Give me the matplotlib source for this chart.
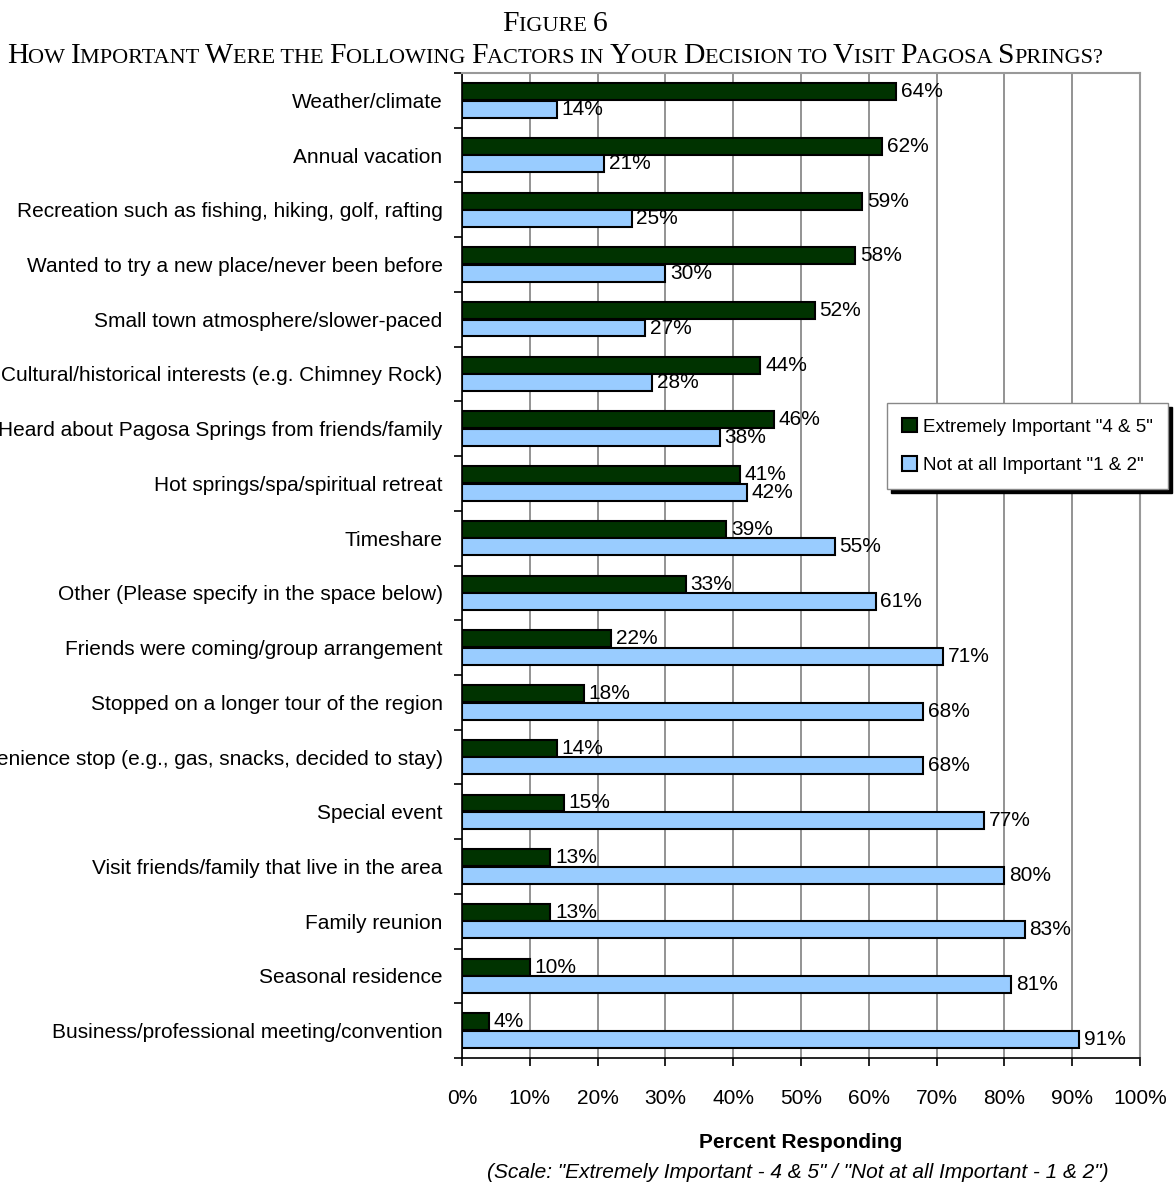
import numpy as np
import matplotlib
matplotlib.use('Agg')
import matplotlib.pyplot as plt
from matplotlib.offsetbox import TextArea, HPacker, AnchoredOffsetbox
from matplotlib.ticker import MultipleLocator, PercentFormatter, FixedLocator

categories = [
    'Weather/climate',
    'Annual vacation',
    'Recreation such as fishing, hiking, golf, rafting',
    'Wanted to try a new place/never been before',
    'Small town atmosphere/slower-paced',
    'Cultural/historical interests (e.g. Chimney Rock)',
    'Heard about Pagosa Springs from friends/family',
    'Hot springs/spa/spiritual retreat',
    'Timeshare',
    'Other (Please specify in the space below)',
    'Friends were coming/group arrangement',
    'Stopped on a longer tour of the region',
    'Convenience stop (e.g., gas, snacks, decided to stay)',
    'Special event',
    'Visit friends/family that live in the area',
    'Family reunion',
    'Seasonal residence',
    'Business/professional meeting/convention',
]
extremely = [64, 62, 59, 58, 52, 44, 46, 41, 39, 33, 22, 18, 14, 15, 13, 13, 10, 4]
not_at_all = [14, 21, 25, 30, 27, 28, 38, 42, 55, 61, 71, 68, 68, 77, 80, 83, 81, 91]

sans = ['Liberation Sans', 'DejaVu Sans']
serif = ['Liberation Serif', 'DejaVu Serif']
plt.rcParams['font.family'] = sans

fig = plt.figure(figsize=(11.75, 11.86), dpi=100)
ax = fig.add_axes([462 / 1175, 1 - 1058 / 1186, 678 / 1175, 985 / 1186])

y = np.arange(len(categories))
h = 0.31
off = 0.16
ax.barh(y - off, extremely, height=h, color='#003300', edgecolor='black', linewidth=1.5,
        label='Extremely Important "4 & 5"', zorder=3)
ax.barh(y + off, not_at_all, height=h, color='#99CCFF', edgecolor='black', linewidth=1.5,
        label='Not at all Important "1 & 2"', zorder=3)

for yy, v in zip(y - off, extremely):
    ax.text(v + 0.7, yy, f'{v}%', va='center', ha='left', fontsize=15, zorder=4)
for yy, v in zip(y + off, not_at_all):
    ax.text(v + 0.7, yy, f'{v}%', va='center', ha='left', fontsize=15, zorder=4)

ax.set_xlim(0, 100)
ax.set_ylim(len(categories) - 0.5, -0.5)
ax.xaxis.set_major_locator(MultipleLocator(10))
ax.xaxis.set_major_formatter(PercentFormatter(decimals=0))
ax.set_yticks(y)
ax.set_yticklabels(categories, fontsize=15)
ax.yaxis.set_minor_locator(FixedLocator(np.arange(-0.5, len(categories), 1)))
ax.tick_params(axis='y', which='major', length=0, pad=14)
ax.tick_params(axis='y', which='minor', length=6, width=1.2, direction='out')
ax.tick_params(axis='x', length=6, width=1.2, direction='out', labelsize=15, pad=16)
ax.grid(axis='x', color='#808080', linewidth=1.2, zorder=0)

for s in ['top', 'right']:
    ax.spines[s].set_color('#999999')
    ax.spines[s].set_linewidth(1.5)
ax.spines['left'].set_linewidth(1.2)
ax.spines['bottom'].set_linewidth(1.2)

ax.set_xlabel('Percent Responding', fontsize=15, fontweight='bold', labelpad=18)
fig.text(798 / 1175, 1 - 1172 / 1186, '(Scale: "Extremely Important - 4 & 5" / "Not at all Important - 1 & 2")',
         ha='center', va='center', fontsize=15, style='italic')

leg = ax.legend(loc='center left', bbox_to_anchor=(887 / 1175, 1 - 446 / 1186),
                bbox_transform=fig.transFigure, fontsize=13.5, frameon=True, fancybox=False,
                shadow={'color': 'black', 'alpha': 1, 'ox': 3, 'oy': -3}, edgecolor='#888888',
                handlelength=0.8, handleheight=0.8, handletextpad=0.3, labelspacing=1.1,
                borderpad=0.8, borderaxespad=0)
leg.get_frame().set_linewidth(1.0)


def small_caps(text, big, small, xc, yc):
    runs = []
    for ch in text:
        size = big if ch.isupper() or ch.isdigit() else small
        if runs and runs[-1][1] == size:
            runs[-1][0] += ch.upper()
        else:
            runs.append([ch.upper(), size])
    boxes = [TextArea(t, textprops=dict(fontsize=s, family=serif)) for t, s in runs]
    pack = HPacker(children=boxes, align='baseline', pad=0, sep=0)
    anchored = AnchoredOffsetbox(loc='center', child=pack, pad=0, frameon=False,
                                 bbox_to_anchor=(xc, yc), bbox_transform=fig.transFigure,
                                 borderpad=0)
    fig.add_artist(anchored)


small_caps('Figure 6', 21.3, 16, 555 / 1175, 1 - 24 / 1186)
small_caps('How Important Were the Following Factors in Your Decision to Visit Pagosa Springs?',
           21.3, 16, 555 / 1175, 1 - 56 / 1186)

fig.savefig('out.png', dpi=100)
